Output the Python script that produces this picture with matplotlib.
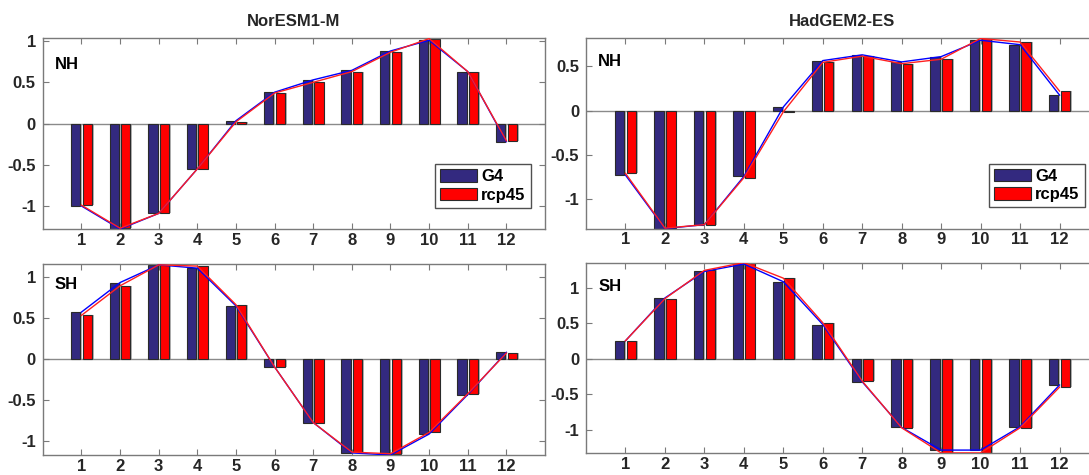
import matplotlib
matplotlib.use("Agg")
import matplotlib.pyplot as plt
import numpy as np

plt.rcParams['font.family'] = ['Liberation Sans', 'DejaVu Sans']

months = list(range(1, 13))
month_labels = [str(m) for m in months]

# NorESM1-M
nor_nh_g4 = [-1.00, -1.28, -1.09, -0.55, 0.034, 0.38, 0.53, 0.645, 0.88, 1.01, 0.63, -0.22]
nor_nh_rcp = [-0.99, -1.27, -1.09, -0.55, 0.02, 0.37, 0.50, 0.63, 0.865, 1.03, 0.63, -0.21]
nor_sh_g4 = [0.575, 0.935, 1.15, 1.11, 0.65, -0.093, -0.77, -1.14, -1.165, -0.91, -0.43, 0.085]
nor_sh_rcp = [0.535, 0.895, 1.15, 1.135, 0.665, -0.093, -0.77, -1.13, -1.15, -0.89, -0.42, 0.076]
# HadGEM2-ES
had_nh_g4 = [-0.73, -1.335, -1.29, -0.745, 0.04, 0.565, 0.63, 0.55, 0.61, 0.795, 0.745, 0.175]
had_nh_rcp = [-0.71, -1.33, -1.29, -0.76, -0.015, 0.545, 0.615, 0.53, 0.58, 0.815, 0.775, 0.22]
had_sh_g4 = [0.255, 0.86, 1.235, 1.34, 1.09, 0.485, -0.325, -0.97, -1.29, -1.29, -0.96, -0.37]
had_sh_rcp = [0.255, 0.85, 1.25, 1.36, 1.14, 0.51, -0.315, -0.975, -1.33, -1.33, -0.975, -0.40]

BLUE = '#33297f'
RED = '#ff0000'
SHADOW = '#b4b4b4'
EDGE = '#2a2a2a'
SPINE = '#7a7a7a'
TXT = '#262626'
FS = 12

W, H = 1089, 475
fig = plt.figure(figsize=(W / 100, H / 100), dpi=100)

def px_axes(x0, x1, ytop, ybot):
    return fig.add_axes([x0 / W, 1 - ybot / H, (x1 - x0) / W, (ybot - ytop) / H])

panels = [
    dict(pos=(42.8, 545, 38.3, 229.3), g4=nor_nh_g4, rcp=nor_nh_rcp, ylim=(-1.283, 1.034),
         yticks=[-1, -0.5, 0, 0.5, 1], label='NH', ly=0.865, title='NorESM1-M', legend=True),
    dict(pos=(586, 1099, 38.3, 228.7), g4=had_nh_g4, rcp=had_nh_rcp, ylim=(-1.336, 0.817),
         yticks=[-1, -0.5, 0, 0.5], label='NH', ly=0.878, title='HadGEM2-ES', legend=True),
    dict(pos=(42.8, 545, 264.3, 455.3), g4=nor_sh_g4, rcp=nor_sh_rcp, ylim=(-1.169, 1.157),
         yticks=[-1, -0.5, 0, 0.5, 1], label='SH', ly=0.894, title=None, legend=False),
    dict(pos=(586, 1099, 262.6, 453.2), g4=had_sh_g4, rcp=had_sh_rcp, ylim=(-1.334, 1.36),
         yticks=[-1, -0.5, 0, 0.5, 1], label='SH', ly=0.876, title=None, legend=False),
]

x = np.array(months, dtype=float)
bw = 0.24
off = 0.15
sh = 0.045

def fmt(v):
    if v == 0:
        return '0'
    return '%g' % v

for p in panels:
    ax = px_axes(*p['pos'])
    g4 = np.array(p['g4'])
    rcp = np.array(p['rcp'])
    # shadows
    ax.bar(x - off + sh, g4, bw, color=SHADOW, edgecolor='none', zorder=1)
    ax.bar(x + off + sh, rcp, bw, color=SHADOW, edgecolor='none', zorder=1)
    b1 = ax.bar(x - off, g4, bw, color=BLUE, edgecolor=EDGE, linewidth=0.8, zorder=2, label='G4')
    b2 = ax.bar(x + off, rcp, bw, color=RED, edgecolor=EDGE, linewidth=0.8, zorder=2, label='rcp45')
    ax.axhline(0, color='#8a8a8a', linewidth=1.0, zorder=1.5)
    ax.plot(x, g4, color='#0000ff', linewidth=1.0, zorder=3)
    ax.plot(x, rcp, color='#ff2020', linewidth=1.0, zorder=4)
    ax.set_xlim(0, 13)
    ax.set_ylim(*p['ylim'])
    ax.set_xticks(x)
    ax.set_xticklabels(month_labels)
    ax.set_yticks(p['yticks'])
    ax.set_yticklabels([fmt(v) for v in p['yticks']])
    ax.tick_params(direction='in', top=True, right=True, length=4, width=0.8,
                   color=SPINE, labelcolor=TXT, labelsize=FS)
    ax.tick_params(axis='x', pad=2.5)
    ax.tick_params(axis='y', pad=5)
    for lab in ax.get_xticklabels() + ax.get_yticklabels():
        lab.set_fontweight('bold')
    for s in ax.spines.values():
        s.set_color(SPINE)
        s.set_linewidth(1.0)
    ax.text(0.024, p['ly'], p['label'], transform=ax.transAxes, ha='left', va='center',
            fontsize=FS, fontweight='bold', color='black')
    if p['title']:
        ax.set_title(p['title'], fontsize=FS, fontweight='bold', color=TXT, pad=9)
    if p['legend']:
        x0, x1, yt, yb = p['pos']
        aw, ah = x1 - x0, yb - yt
        rx = 1 - 14.5 / aw
        by = 21.5 / ah
        leg = ax.legend(handles=[b1, b2], loc='lower right', bbox_to_anchor=(rx, by),
                        borderaxespad=0, fancybox=False, framealpha=1,
                        edgecolor='#505050', handlelength=2.2,
                        handleheight=0.8, handletextpad=0.25, borderpad=0.3,
                        labelspacing=0.2, prop={'weight': 'bold', 'size': FS})
        leg.get_frame().set_linewidth(1.0)
        for t in leg.get_texts():
            t.set_color('black')

fig.savefig('out.png', dpi=100)
